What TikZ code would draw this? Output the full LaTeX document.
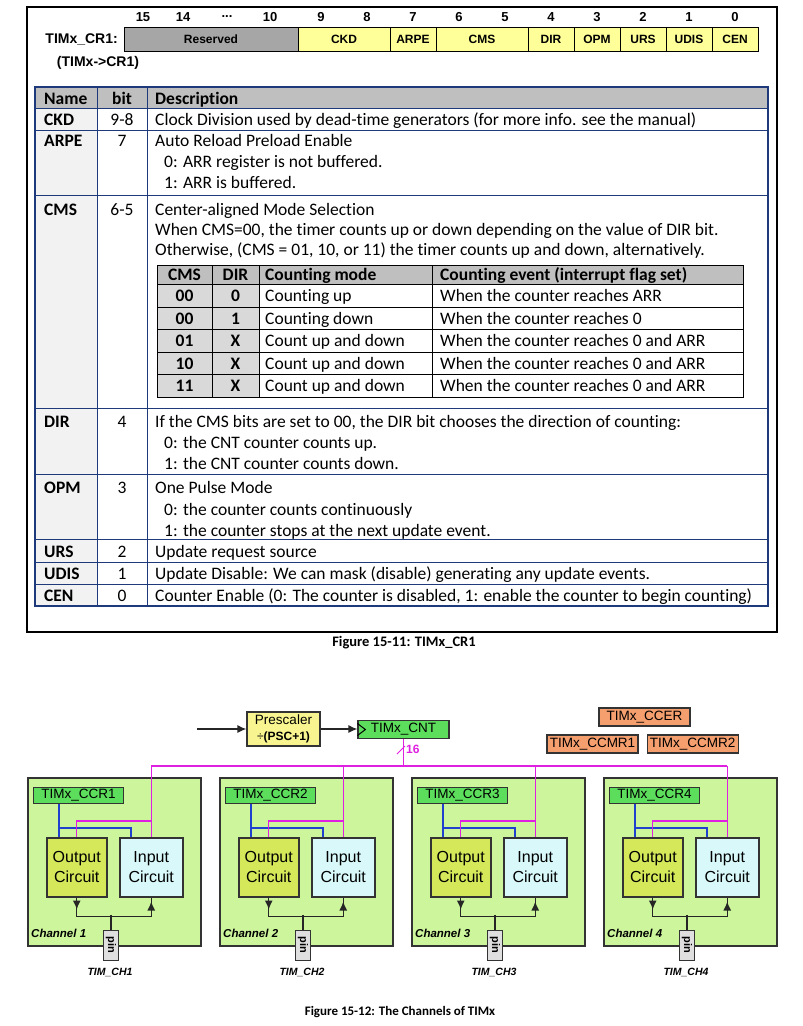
\documentclass[tikz,border=0pt]{standalone}
\usepackage{fontspec}
\setmainfont{Carlito}[Ligatures={NoCommon,NoContextual},RawFeature={-calt}]
\newfontfamily\arialfont{Liberation Sans}
\usetikzlibrary{positioning,arrows.meta}

\definecolor{regyellow}{HTML}{FFFF99}
\definecolor{resgray}{HTML}{A6A6A6}
\definecolor{tabnavy}{HTML}{1F3A7A}
\definecolor{hdrgray}{HTML}{BFBFBF}
\definecolor{namegray}{HTML}{F2F2F2}
\definecolor{cellgray}{HTML}{D9D9D9}
\definecolor{chgreen}{HTML}{CCF59C}
\definecolor{outgreen}{HTML}{D4E85A}
\definecolor{incyan}{HTML}{D8F8FA}
\definecolor{cntgreen}{HTML}{5CDD5C}
\definecolor{ccorange}{HTML}{F59E6E}
\definecolor{pscyellow}{HTML}{F8F590}
\definecolor{busmag}{HTML}{E020E0}
\definecolor{sigblue}{HTML}{2040D0}
\definecolor{boxline}{HTML}{333333}

\newcommand{\tabfont}{\fontsize{17.5}{21}\selectfont}

\begin{document}
\begin{tikzpicture}[x=1pt, y=-1pt, >={Latex[length=9pt,width=8pt]},
  reg cell/.style={draw, line width=1pt, inner sep=0pt, outer sep=0pt, minimum height=24pt, font=\arialfont\bfseries\fontsize{12}{12}\selectfont},
  bit num/.style={font=\arialfont\bfseries\fontsize{13}{13}\selectfont},
  tab text/.style={anchor=base west, font=\tabfont},
  tab bold/.style={anchor=base west, font=\tabfont\bfseries},
  reg box/.style={draw=boxline, line width=1.2pt, inner sep=0pt, minimum width=91pt, minimum height=18pt, font=\arialfont\fontsize{13.5}{14}\selectfont},
  chan box/.style={draw=boxline, line width=1.5pt, fill=chgreen, anchor=north west, minimum width=173pt, minimum height=168pt},
  circ box/.style={draw=boxline, line width=1.5pt, anchor=north west, minimum height=59pt, align=center, inner sep=0pt, font=\arialfont\fontsize{16}{20}\selectfont},
  pin box/.style={draw=boxline, line width=1pt, fill=gray!25, minimum width=15pt, minimum height=30pt, inner sep=0pt},
  bus/.style={draw=busmag, line width=1.2pt},
  sig/.style={draw=sigblue, line width=1.5pt},
  wire/.style={draw=black!85, line width=1.2pt}]
  \tikzstyle{every node}=[inner sep=0pt]
  \useasboundingbox (0,0) rectangle (803,1026);

  % ---- Figure 15-11 ----
  \draw[line width=1.2pt] (27,7) rectangle (777,632);

  \node[reg cell, fill=resgray, minimum width=174pt, anchor=west] (res) at (124,39) {Reserved};
  \node[reg cell, fill=regyellow, minimum width=92pt, right=0pt of res] (ckd) {CKD};
  \node[reg cell, fill=regyellow, minimum width=46pt, right=0pt of ckd] (arpe) {ARPE};
  \node[reg cell, fill=regyellow, minimum width=92pt, right=0pt of arpe] (cms) {CMS};
  \node[reg cell, fill=regyellow, minimum width=46pt, right=0pt of cms] (dir) {DIR};
  \node[reg cell, fill=regyellow, minimum width=46pt, right=0pt of dir] (opm) {OPM};
  \node[reg cell, fill=regyellow, minimum width=46pt, right=0pt of opm] (urs) {URS};
  \node[reg cell, fill=regyellow, minimum width=46pt, right=0pt of urs] (udis) {UDIS};
  \node[reg cell, fill=regyellow, minimum width=46pt, right=0pt of udis] (cen) {CEN};
  \foreach \b/\x in {15/143,14/183,10/270,9/321,8/367,7/413,6/459,5/505,4/551,3/597,2/643,1/689,0/735}
    \node[bit num] at (\x,17) {\b};
  \node[bit num] (bitdots) at (227,17) {...};
  \node[anchor=east, font=\arialfont\bfseries\fontsize{14}{15}\selectfont] (crname) at (118,39) {TIMx\_CR1:};
  \node[font=\arialfont\bfseries\fontsize{14}{15}\selectfont] (crptr) at (98,63) {(TIMx->CR1)};

  % table
  \fill[hdrgray] (35,87) rectangle (768,108);
  \fill[namegray] (35,108) rectangle (97,606);
  \foreach \y in {108,130,195,408,474,539,562,584}
    \draw[tabnavy, line width=0.9pt] (35,\y) -- (768,\y);
  \draw[tabnavy, line width=0.9pt] (97,87) -- (97,606) (147,87) -- (147,606);
  \draw[tabnavy, line width=1.1pt] (35,87) rectangle (768,606);

  \node[tab bold] at (44,104) {Name};
  \node[tab bold, anchor=base] at (122,104) {bit};
  \node[tab bold] at (155,104) {Description};
  \foreach \n/\b/\y in {CKD/9-8/125,ARPE/7/146,CMS/6-5/215,DIR/4/427,OPM/3/493,URS/2/557,UDIS/1/579,CEN/0/601}{
    \node[tab bold] at (44,\y) {\n};
    \node[tab text, anchor=base] at (122,\y) {\b};
  }
  \node[tab text] at (155,125) {Clock Division used by dead-time generators (for more info. see the manual)};
  \node[tab text] at (155,146) {Auto Reload Preload Enable};
  \node[tab text] at (164,167) {0: ARR register is not buffered.};
  \node[tab text] at (164,188) {1: ARR is buffered.};
  \node[tab text] at (155,215) {Center-aligned Mode Selection};
  \node[tab text] at (155,235) {When CMS=00, the timer counts up or down depending on the value of DIR bit.};
  \node[tab text] at (155,255) {Otherwise, (CMS = 01, 10, or 11) the timer counts up and down, alternatively.};
  \node[tab text] at (155,427) {If the CMS bits are set to 00, the DIR bit chooses the direction of counting:};
  \node[tab text] at (164,448) {0: the CNT counter counts up.};
  \node[tab text] at (164,469) {1: the CNT counter counts down.};
  \node[tab text] at (155,493) {One Pulse Mode};
  \node[tab text] at (164,515) {0: the counter counts continuously};
  \node[tab text] at (164,536) {1: the counter stops at the next update event.};
  \node[tab text] at (155,557) {Update request source};
  \node[tab text] at (155,579) {Update Disable: We can mask (disable) generating any update events.};
  \node[tab text] at (155,601) {Counter Enable (0: The counter is disabled, 1: enable the counter to begin counting)};

  % counting modes
  \fill[hdrgray] (157,265) rectangle (743,284);
  \fill[cellgray] (157,284) rectangle (259,397);
  \foreach \y in {284,307,329,352,374}
    \draw[line width=0.9pt] (157,\y) -- (743,\y);
  \draw[line width=0.9pt] (212,265) -- (212,397) (259,265) -- (259,397) (432,265) -- (432,397);
  \draw[line width=1pt] (157,265) rectangle (743,397);
  \node[tab bold, anchor=base] at (184.5,280.5) {CMS};
  \node[tab bold, anchor=base] at (235.5,280.5) {DIR};
  \node[tab bold] at (265,280.5) {Counting mode};
  \node[tab bold] at (440,280.5) {Counting event (interrupt flag set)};
  \foreach \c/\d/\m/\e/\y in {00/0/Counting up/When the counter reaches ARR/301.5,
      00/1/Counting down/When the counter reaches 0/324,
      01/X/Count up and down/When the counter reaches 0 and ARR/346.5,
      10/X/Count up and down/When the counter reaches 0 and ARR/369,
      11/X/Count up and down/When the counter reaches 0 and ARR/391.5}{
    \node[tab bold, anchor=base] at (184.5,\y) {\c};
    \node[tab bold, anchor=base] at (235.5,\y) {\d};
    \node[tab text] at (265,\y) {\m};
    \node[tab text] at (440,\y) {\e};
  }
  \node[font=\bfseries\fontsize{14.5}{15}\selectfont] (cap1) at (404,643) {Figure 15-11: TIMx\_CR1};

  % ---- Figure 15-12 ----
  \coordinate (clkin) at (197,729);
  \coordinate (bus) at (0,766);
  \node[reg box, fill=pscyellow, minimum width=73pt, minimum height=34pt, align=center, font=\arialfont\fontsize{13.5}{16}\selectfont] (psc) at (283.5,729) {Prescaler\\{\fontsize{12}{13}\selectfont ÷\textbf{(PSC+1)}}};
  \node[reg box, fill=cntgreen] (cnt) at (403.5,729.5) {TIMx\_CNT};
  \draw[line width=1pt] ([yshift=6pt]cnt.west) -- ([xshift=8pt]cnt.west) -- ([yshift=-6pt]cnt.west);
  \draw[->, wire] (clkin) -- (psc.west);
  \draw[->, wire] (psc.east) -- (psc.east -| cnt.west);

  \node[reg box, fill=ccorange] (ccer) at (644.5,717) {TIMx\_CCER};
  \node[reg box, fill=ccorange] (ccmr1) at (592.5,744) {TIMx\_CCMR1};
  \node[reg box, fill=ccorange, right=8pt of ccmr1] (ccmr2) {TIMx\_CCMR2};

  \foreach \k in {1,...,4}{
    \pgfmathsetmacro{\chx}{27+192*(\k-1)}
    \node[chan box] (ch\k) at (\chx,777) {};
    \node[reg box, fill=cntgreen, minimum width=90pt, minimum height=16pt, anchor=north west] (ccr\k) at (\chx+6,787) {TIMx\_CCR\k};
    \node[circ box, fill=outgreen, minimum width=60pt] (out\k) at (\chx+19,837) {Output\\Circuit};
    \node[circ box, fill=incyan, minimum width=63pt] (in\k) at (\chx+92,837) {Input\\Circuit};
    \node[pin box] (pin\k) at (\chx+84,945) {};
    \node[rotate=-90, font=\arialfont\bfseries\fontsize{11}{11}\selectfont] at (pin\k) {pin};
    \node[anchor=base west, font=\arialfont\bfseries\itshape\fontsize{11.5}{12}\selectfont] (chname\k) at (\chx+4,937) {Channel \k};
    \node[font=\arialfont\bfseries\itshape\fontsize{10.5}{11}\selectfont] (tim\k) at (\chx+83,972) {TIM\_CH\k};
    % CCR to circuits
    \draw[sig] ([xshift=26pt]ccr\k.south west) -- ([xshift=13pt]out\k.north west);
    \draw[sig] ([xshift=26pt]ccr\k.south west) ++(0,24) -| ([xshift=12pt]in\k.north west);
    % counter bus
    \draw[bus] (in\k.north) -- (in\k.north |- bus);
    \draw[bus] (in\k.north) ++(0,-16) -| (out\k.north);
    % pin
    \draw[->, wire] (out\k.south) -- ++(0,12);
    \draw[wire] (out\k.south) -- ++(0,19) -| (in\k.south);
    \draw[->, wire] ([yshift=-14pt]in\k.south) -- ([yshift=-4pt]in\k.south);
    \draw[wire] (pin\k.north) -- ++(0,-15);
  }
  \draw[bus] (in1.north |- bus) -- (in4.north |- bus);
  \draw[bus] (cnt.south) -- (cnt.south |- bus);
  \draw[busmag, line width=0.9pt] (397,754) -- (405,746);
  \node[anchor=west, text=busmag, font=\arialfont\bfseries\fontsize{12}{12}\selectfont] (width) at (406,749) {16};

  \node[font=\bfseries\fontsize{13}{14}\selectfont] (cap2) at (400,1012) {Figure 15-12: The Channels of TIMx};
\end{tikzpicture}
\end{document}
